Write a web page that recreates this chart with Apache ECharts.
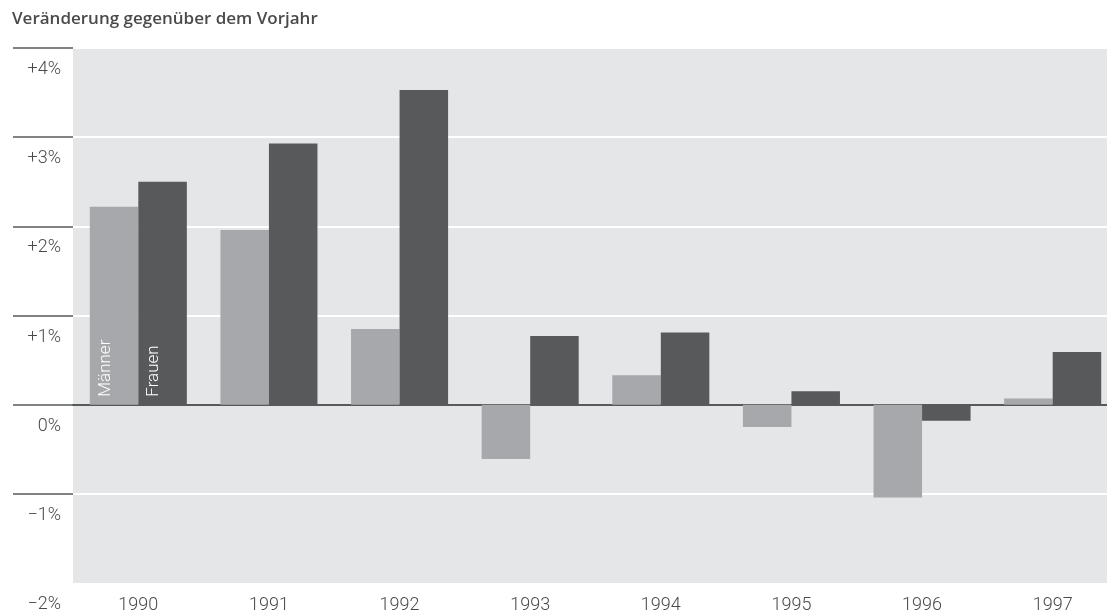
<!DOCTYPE html>
<html>
<head>
<meta charset="utf-8">
<script src="https://cdn.jsdelivr.net/npm/echarts@6/dist/echarts.min.js"></script>
<style>
  html, body { margin: 0; padding: 0; background: #fff; }
  #chart { width: 1107px; height: 616px; }
</style>
</head>
<body>
<div id="chart"></div>
<script>
// Daten
var years = ['1990', '1991', '1992', '1993', '1994', '1995', '1996', '1997']
var maenner = [2.22, 1.96, 0.85, -0.61, 0.33, -0.25, -1.04, 0.07]
var frauen = [2.50, 2.93, 3.53, 0.77, 0.81, 0.15, -0.18, 0.59]
var tickValues = [-1, 0, 1, 2, 3, 4]

var textColor = '#4a4a4c'
var labelFont = 'Roboto'

// Label unter der Linie: leere erste Zeile schiebt den Text nach unten
function pct(v) {
  var s = '0%'
  if (v > 0) s = '+' + v + '%'
  if (v < 0) s = '\u2212' + Math.abs(v) + '%'
  return ' \n' + s
}

// Beschriftung im ersten Balken
function withLabel(values, name) {
  return values.map(function(v, i) {
    if (i !== 0) return v
    return {
      value: v,
      label: {
        show: true,
        formatter: name,
        position: 'insideBottom',
        rotate: 90,
        align: 'left',
        verticalAlign: 'bottom',
        distance: 8,
        color: '#fff',
        fontFamily: labelFont,
        fontWeight: 300,
        fontSize: 17
      }
    }
  })
}

var chart = echarts.init(document.getElementById('chart'))
chart.setOption({
  backgroundColor: '#fff',
  animation: false,
  title: {
    text: 'Veränderung gegenüber dem Vorjahr',
    left: 7,
    top: 6,
    textStyle: {
      color: textColor,
      fontFamily: 'Open Sans',
      fontWeight: 600,
      fontSize: 17
    }
  },
  grid: {
    left: 73,
    right: -11,
    top: 48,
    bottom: 33,
    outerBoundsMode: 'none',
    show: true,
    backgroundColor: '#e5e6e8',
    borderWidth: 0
  },
  xAxis: [{
    type: 'category',
    data: years,
    axisLine: {
      onZero: true,
      lineStyle: { color: '#58595b', width: 2 }
    },
    axisTick: { show: false },
    axisLabel: { show: false }
  }, {
    type: 'category',
    data: years,
    position: 'bottom',
    axisLine: { show: false, onZero: false },
    axisTick: { show: false },
    axisLabel: {
      margin: 13,
      color: textColor,
      fontFamily: labelFont,
      fontWeight: 300,
      fontSize: 18
    }
  }],
  yAxis: {
    type: 'value',
    min: -2,
    max: 4,
    interval: 1,
    axisLine: { show: false },
    axisTick: {
      show: true,
      length: 60,
      customValues: tickValues,
      lineStyle: { color: '#58595b', width: 1.5 }
    },
    splitLine: {
      lineStyle: { color: '#ffffff', width: 2 }
    },
    axisLabel: {
      margin: 12,
      color: textColor,
      fontFamily: labelFont,
      fontWeight: 300,
      fontSize: 18,
      lineHeight: 43,
      verticalAlign: 'middle',
      formatter: pct
    }
  },
  series: [{
    name: 'Männer',
    type: 'bar',
    barGap: 0,
    barCategoryGap: '25.7%',
    itemStyle: { color: '#a7a8ab' },
    data: withLabel(maenner, 'Männer')
  }, {
    name: 'Frauen',
    type: 'bar',
    barGap: 0,
    barCategoryGap: '25.7%',
    itemStyle: { color: '#58595b' },
    data: withLabel(frauen, 'Frauen')
  }]
})
</script>
</body>
</html>
